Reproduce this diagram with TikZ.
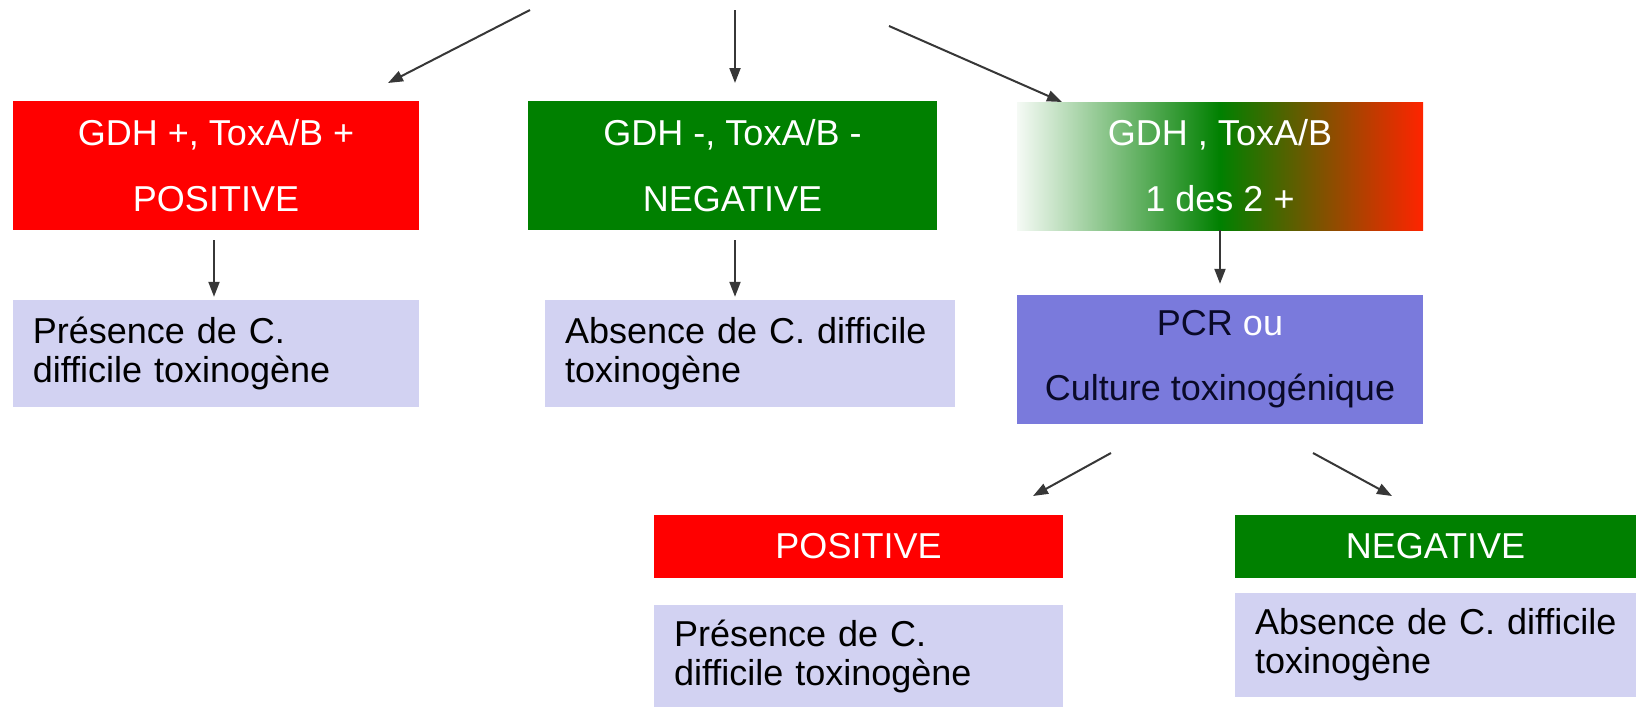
\documentclass[tikz,border=0pt]{standalone}
\usepackage{fontspec}
\setmainfont{Liberation Sans}
\usetikzlibrary{arrows.meta}
\definecolor{myred}{RGB}{255,0,0}
\definecolor{mygreen}{RGB}{0,128,0}
\definecolor{lav}{RGB}{210,210,242}
\definecolor{purp}{RGB}{122,122,220}
\definecolor{arrowc}{RGB}{55,55,55}
\definecolor{gradred}{RGB}{255,36,0}
\definecolor{gradleft}{RGB}{245,250,245}
\definecolor{pcrtext}{RGB}{10,10,40}
\begin{document}
\begin{tikzpicture}[x=1pt,y=-1pt,
  colbox/.style={fill=#1, text=white, inner sep=0pt, align=center,
    font=\fontsize{36}{66}\selectfont},
  lavbox/.style={fill=lav, text=black, inner xsep=20pt, inner ysep=0pt, align=left,
    font=\fontsize{36}{39}\selectfont},
  arr/.style={draw=arrowc, line width=2pt, -{Triangle[length=15pt,width=11pt]}}]
\useasboundingbox (0,0) rectangle (1636,707);

% row 1
\node[colbox=myred, minimum width=406.5pt, minimum height=129pt] (pos1) at (216,165.5)
  {GDH +, ToxA/B +\\POSITIVE};
\node[colbox=mygreen, minimum width=409pt, minimum height=129pt] (neg1) at (732.5,165.5)
  {GDH -, ToxA/B -\\NEGATIVE};
\node[inner sep=0pt, text=white, align=center, font=\fontsize{36}{66}\selectfont,
  minimum width=406pt, minimum height=128pt,
  left color=gradleft, right color=gradred, middle color=mygreen] (mix) at (1220,166)
  {GDH , ToxA/B\\1 des 2 +};

% row 2
\node[lavbox, text width=366.5pt, minimum height=107pt] (res1) at (216,353.5)
  {\mbox{Présence de C.}\\\mbox{difficile toxinogène}};
\node[lavbox, text width=370pt, minimum height=107pt] (res2) at (750,353.5)
  {\mbox{Absence de C. difficile}\\toxinogène};
\node[fill=purp, text=pcrtext, inner sep=0pt, align=center, font=\fontsize{36}{65}\selectfont,
  minimum width=406pt, minimum height=129pt] (pcr) at (1220,359.5)
  {PCR \textcolor{white}{ou}\\Culture toxinogénique};

% row 3
\node[colbox=myred, minimum width=409pt, minimum height=63pt] (pos2) at (858.5,546.5) {POSITIVE};
\node[colbox=mygreen, minimum width=401pt, minimum height=63pt] (neg2) at (1435.5,546.5) {NEGATIVE};
\node[lavbox, text width=369pt, minimum height=102pt] (res3) at (858.5,656)
  {\mbox{Présence de C.}\\\mbox{difficile toxinogène}};
\node[lavbox, text width=361pt, minimum height=104pt] (res4) at (1435.5,645)
  {\mbox{Absence de C. difficile}\\toxinogène};

% connector ends
\coordinate (t1) at (530,10);
\coordinate (h1) at (388,83);
\coordinate (t2) at (735,10);
\coordinate (h2) at (735,83);
\coordinate (t3) at (889,26);
\coordinate (h3) at (1062,102);
\coordinate (t4) at (1111,453);
\coordinate (h4) at (1033,496);
\coordinate (t5) at (1313,453);
\coordinate (h5) at (1392,496);

\draw[arr] (t1) -- (h1);
\draw[arr] (t2) -- (h2);
\draw[arr] (t3) -- (h3);
\draw[arr, shorten <=10pt, shorten >=3pt] ([xshift=-2pt]pos1.south) -- ([xshift=-2pt]pos1.south |- res1.north);
\draw[arr, shorten <=10pt, shorten >=3pt] ([xshift=2.5pt]neg1.south) -- ([xshift=2.5pt]neg1.south |- res2.north);
\draw[arr, shorten >=11pt] (mix.south) -- (pcr.north);
\draw[arr] (t4) -- (h4);
\draw[arr] (t5) -- (h5);
\end{tikzpicture}
\end{document}
